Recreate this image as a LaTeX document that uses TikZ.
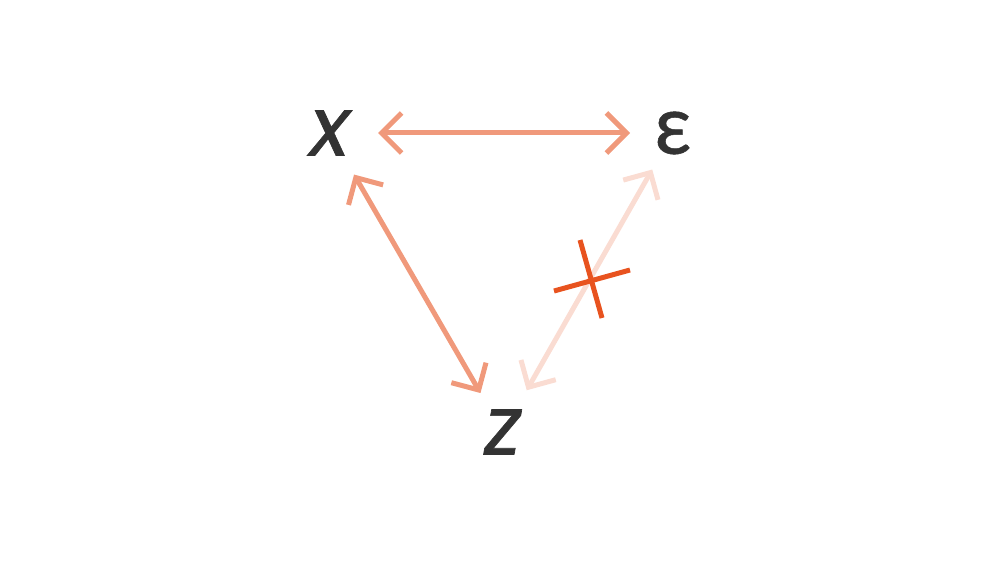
\documentclass[tikz,border=0pt]{standalone}
\usepackage{fontspec}
\setmainfont{Poppins}[ItalicFeatures={FakeBold=0.8}]
\newfontfamily\grk{Lato}[FakeBold=0.6]
\usetikzlibrary{arrows.meta}
\definecolor{txt}{HTML}{333333}
\definecolor{arr}{HTML}{F0997B}
\definecolor{fade}{HTML}{FADCD2}
\definecolor{crs}{HTML}{E8531F}
\tikzset{
  var/.style={text=txt, font=\fontsize{82}{82}\selectfont, inner sep=0pt},
  biarrow/.style={line width=5pt, {Straight Barb[length=20pt,width=40pt,line join=miter]}-{Straight Barb[length=20pt,width=40pt,line join=miter]}},
  crossline/.style={line width=5pt, crs}
}
\begin{document}
\begin{tikzpicture}[x=1pt,y=1pt]
\useasboundingbox (0,0) rectangle (1001,563);
\node[var] (x) at (330,430) {\itshape x};
\node[var] (eps) at (673,430) {\grk ε};
\node[var] (z) at (503,131) {\itshape z};
\draw[biarrow, arr, shorten <=48pt, shorten >=43pt] (x.center) -- (eps.center);
\draw[biarrow, arr, shorten <=48pt, shorten >=45pt] (x.center) -- (z.center);
\draw[biarrow, fade, shorten <=42pt, shorten >=48pt] (eps.center) -- (z.center);
\draw[crossline] (554,272) -- (630,293);
\draw[crossline] (580,323) -- (602,245);
\end{tikzpicture}
\end{document}
